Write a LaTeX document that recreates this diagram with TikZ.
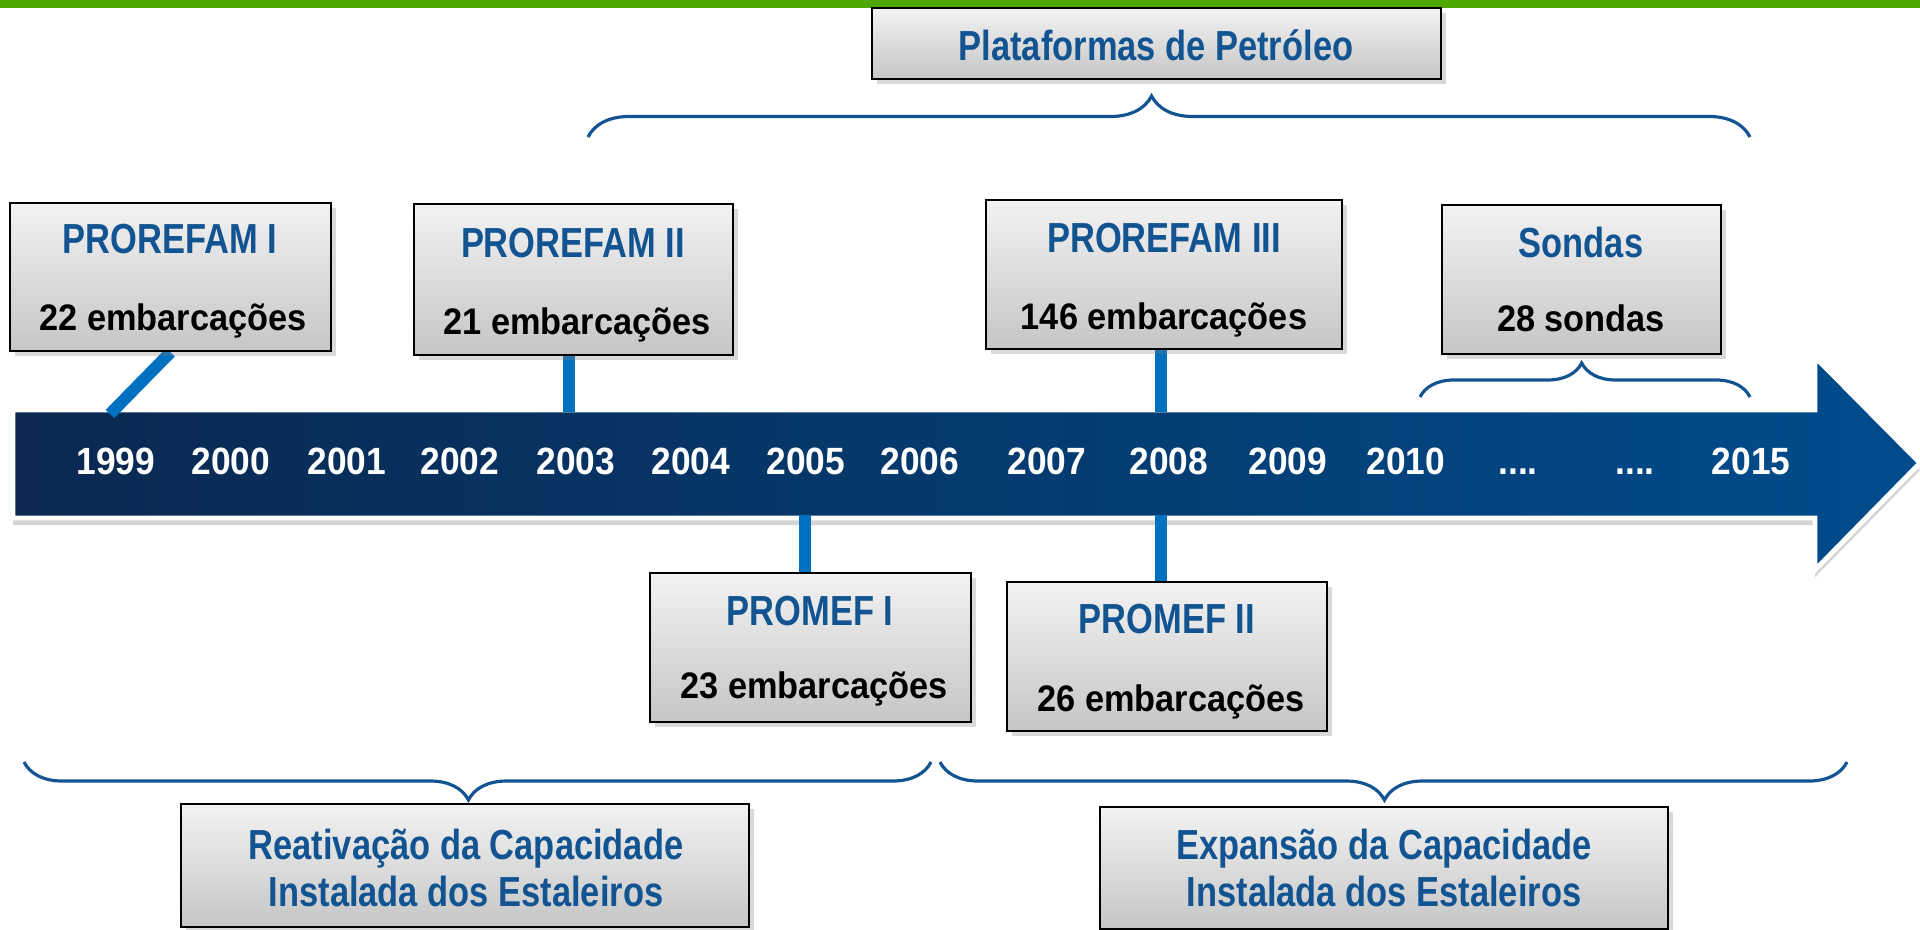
\documentclass[tikz,border=0pt]{standalone}
\usepackage{fontspec}
\setmainfont{Liberation Sans}
\newfontfamily\ttlfont{Liberation Sans}[FakeStretch=0.82]
\newfontfamily\cntfont{Liberation Sans}[FakeStretch=0.93]
\usetikzlibrary{decorations.pathreplacing,shadows,backgrounds}
\definecolor{barGreen}{RGB}{78,166,2}
\definecolor{navyL}{RGB}{10,40,80}
\definecolor{navyR}{RGB}{0,76,140}
\definecolor{txtBlue}{RGB}{18,84,145}
\definecolor{linkBlue}{RGB}{0,112,192}
\newcommand\yrdots{....}

\begin{document}
\begin{tikzpicture}[x=0.01cm,y=-0.01cm,
  box/.style={draw=black,line width=0.7pt,top color=gray!10,bottom color=gray!45,
    drop shadow={opacity=0.3,shadow xshift=1.5pt,shadow yshift=-1.5pt},inner sep=0pt},
  ttl/.style={font=\ttlfont\bfseries\fontsize{11.95}{13.1}\selectfont,text=txtBlue,
    inner sep=0pt,text height=8.6pt,text depth=0pt},
  ttltwo/.style={font=\ttlfont\bfseries\fontsize{11.95}{13.1}\selectfont,text=txtBlue,
    inner sep=0pt,align=center},
  cnt/.style={font=\cntfont\bfseries\fontsize{10.5}{12}\selectfont,
    inner sep=0pt,text height=7.5pt,text depth=0pt},
  yr/.style={cnt,text=white,font=\cntfont\bfseries\fontsize{10.8}{12}\selectfont},
  link/.style={draw=linkBlue,line width=3.4pt},
  brc/.style 2 args={decorate,decoration={brace,amplitude=#1,aspect=#2},
    draw=txtBlue,line width=0.9pt}]
\useasboundingbox (0,0) rectangle (1920,930);
\fill[barGreen] (0,0) rectangle (1920,8);

% boxes
\node[box,minimum width=5.69cm,minimum height=0.71cm] (plat) at (1156.5,43.5) {};
\node[ttl] (platt) at (1156,45) {Plataformas de Petróleo};

\node[box,minimum width=3.21cm,minimum height=1.48cm] (pf1) at (170.5,277) {};
\node[ttl] (pf1t) at (170,238) {PROREFAM I};
\node[cnt] (pf1n) at (173,317) {22 embarcações};

\node[box,minimum width=3.19cm,minimum height=1.51cm] (pf2) at (573.5,279.5) {};
\node[ttl] (pf2t) at (573,242) {PROREFAM II};
\node[cnt] (pf2n) at (577,321) {21 embarcações};

\node[box,minimum width=3.56cm,minimum height=1.49cm] (pf3) at (1164,274.5) {};
\node[ttl] (pf3t) at (1164,237) {PROREFAM III};
\node[cnt] (pf3n) at (1164,316) {146 embarcações};

\node[box,minimum width=2.79cm,minimum height=1.49cm] (sd) at (1581.5,279.5) {};
\node[ttl] (sdt) at (1581,242) {Sondas};
\node[cnt] (sdn) at (1581,318) {28 sondas};

\node[box,minimum width=3.21cm,minimum height=1.49cm] (pm1) at (810.5,647.5) {};
\node[ttl] (pm1t) at (810,610) {PROMEF I};
\node[cnt] (pm1n) at (814,685) {23 embarcações};

\node[box,minimum width=3.20cm,minimum height=1.49cm] (pm2) at (1167,656.5) {};
\node[ttl] (pm2t) at (1167,618) {PROMEF II};
\node[cnt] (pm2n) at (1171,698) {26 embarcações};

\node[box,minimum width=5.68cm,minimum height=1.23cm] (rea) at (465,865.5) {};
\node[ttltwo] (reat) at (466,868) {Reativação da Capacidade\\Instalada dos Estaleiros};

\node[box,minimum width=5.68cm,minimum height=1.22cm] (exp) at (1384,868) {};
\node[ttltwo] (expt) at (1384,868) {Expansão da Capacidade\\Instalada dos Estaleiros};

% years
\foreach \lbl/\px [count=\i] in {1999/116,2000/231,2001/347,2002/460,2003/576,
    2004/691,2005/806,2006/920,2007/1047,2008/1169,2009/1288,2010/1406,
    \yrdots/1518,\yrdots/1635,2015/1751}
  \node[yr] (yr\i) at (\px,461) {\lbl};

\coordinate (c1999) at (110,414);
\coordinate (c2003) at (569,412);
\coordinate (c2005) at (805,515);
\coordinate (c2008a) at (1161,412);
\coordinate (c2008b) at (1161,515);

\begin{scope}[on background layer]
  \draw[draw=white,line width=1.4pt,left color=navyL,right color=navyR,
    drop shadow={opacity=0.35,shadow xshift=0pt,shadow yshift=-2pt}]
    (13,410) -- (1815,410) -- (1815,357) -- (1920,463) -- (1815,570)
    -- (1815,518) -- (13,518) -- cycle;
  \draw[link] (pf1.south) -- (c1999);
  \draw[link] (pf2.south -| c2003) -- (c2003);
  \draw[link] (pf3.south -| c2008a) -- (c2008a);
  \draw[link] (pm1.north -| c2005) -- (c2005);
  \draw[link] (pm2.north -| c2008b) -- (c2008b);
\end{scope}

% braces
\draw[brc={0.41cm}{0.485}] (588,137) -- (1750,137);
\draw[brc={0.34cm}{0.49}] (1420,397) -- (1750,397);
\draw[brc={0.38cm}{0.51}] (931,762) -- (24,762);
\draw[brc={0.38cm}{0.51}] (1847,762) -- (940,762);
\end{tikzpicture}
\end{document}
